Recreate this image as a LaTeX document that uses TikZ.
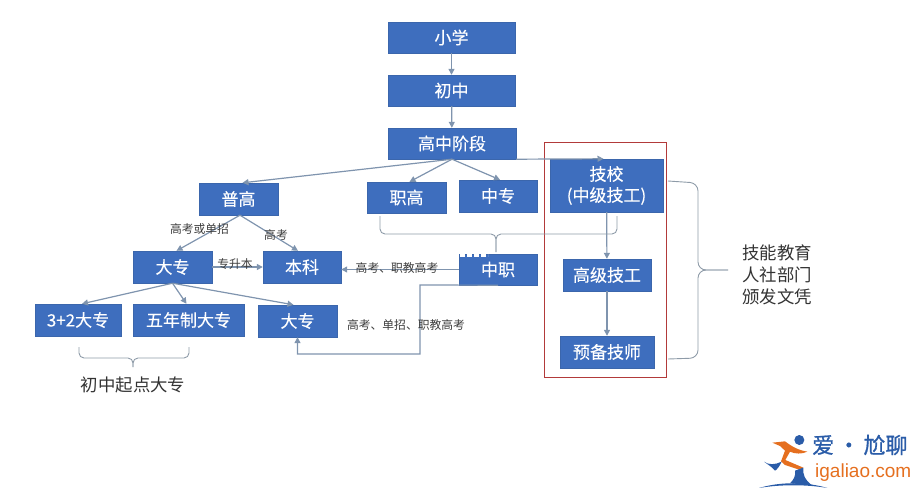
\documentclass[tikz,border=0pt]{standalone}
\usepackage{fontspec}
\setmainfont{Noto Sans CJK SC}
\newfontfamily\heavycjk[FakeBold=0.25]{Noto Sans CJK SC}
\newfontfamily\logocjk[FakeBold=0.9]{Noto Sans CJK SC}
\newfontfamily\logolatin{Liberation Sans}
\usetikzlibrary{arrows.meta}
\definecolor{boxblue}{HTML}{3E6EBE}
\definecolor{boxedge}{HTML}{3B66AC}
\definecolor{linkgray}{HTML}{7F94AE}
\definecolor{bracegray}{HTML}{8E9BA8}
\definecolor{framered}{HTML}{B23A3A}
\definecolor{labelgray}{HTML}{3C3C3C}
\definecolor{logoblue}{HTML}{2A5CA8}
\definecolor{logoorange}{HTML}{E56F1F}
\tikzset{
  box/.style={draw=boxedge,line width=0.4pt,fill=boxblue,text=white,inner sep=0pt,align=center,font=\heavycjk\fontsize{17}{21}\selectfont},
  link/.style={draw=linkgray,line width=1.2pt,-{Triangle[length=6pt,width=6pt]}},
  bracket/.style={draw=bracegray,line width=0.9pt,rounded corners=5pt},
  edgelabel/.style={text=labelgray,inner sep=0pt,font=\fontsize{11.8}{13}\selectfont},
  caption/.style={text=black!80,inner sep=0pt,align=center,font=\fontsize{17.4}{22}\selectfont},
}
\begin{document}
\begin{tikzpicture}[x=1pt,y=-1pt]
\useasboundingbox (0,0) rectangle (923,500);
% frame
\node[draw=framered,line width=1pt,minimum width=122pt,minimum height=235pt,inner sep=0pt] (frame) at (605,259.5) {};
% boxes
\node[box,minimum width=127pt,minimum height=31pt] (xx) at (451.5,37.5) {小学};
\node[box,minimum width=127pt,minimum height=31pt] (cz) at (451.5,90.5) {初中};
\node[box,minimum width=128pt,minimum height=31pt] (gz) at (452,143.5) {高中阶段};
\node[box,minimum width=79pt,minimum height=32pt] (pg) at (238.5,199) {普高};
\node[box,minimum width=79pt,minimum height=31pt] (zg) at (406.5,197.5) {职高};
\node[box,minimum width=78pt,minimum height=32pt] (zhuan) at (498,196) {中专};
\node[box,minimum width=113pt,minimum height=53pt] (jx) at (606.5,185.5) {技校\\(中级技工)};
\node[box,minimum width=79pt,minimum height=32pt] (dz) at (172.5,267) {大专};
\node[box,minimum width=78pt,minimum height=32pt] (bk) at (302,267) {本科};
\node[box,minimum width=78pt,minimum height=31pt] (zz) at (498,269.5) {中职};
\node[box,minimum width=88pt,minimum height=32pt] (gj) at (607,275) {高级技工};
\node[box,minimum width=94pt,minimum height=32pt] (yb) at (607,352) {预备技师};
\node[box,minimum width=86pt,minimum height=32pt] (sj) at (78,320) {3+2大专};
\node[box,minimum width=111pt,minimum height=32pt] (wn) at (188.5,320) {五年制大专};
\node[box,minimum width=79pt,minimum height=32pt] (dz2) at (297.5,321) {大专};
% scan artefact at the top of the box
\draw[white,line width=3pt,dash pattern=on 5pt off 2pt] ([xshift=1pt,yshift=-2pt]zz.north west) -- ++(28,0);
% connectors
\coordinate (turnA) at (420,285);
\coordinate (turnB) at (420,354);
\coordinate (turnC) at (297.5,354);
\draw[link] (xx) -- (cz);
\draw[link] (cz) -- (gz);
\draw[link] (gz.south) -- ([xshift=4pt]pg.north);
\draw[link] (gz.south) -- ([xshift=3pt]zg.north);
\draw[link] (gz.south) -- ([xshift=2pt]zhuan.north);
\draw[link] (gz.south east) -- ([xshift=-3pt]jx.north);
\draw[link] (jx) -- (gj);
\draw[link] (gj) -- (yb);
\draw[link] ([xshift=1.5pt]pg.south) -- ([xshift=4pt]dz.north);
\draw[link] ([xshift=1.5pt]pg.south) -- ([xshift=-4pt]bk.north);
\draw[link] (dz.east) -- (bk.west);
\draw[link] (dz.south) -- ([xshift=4pt]sj.north);
\draw[link] (dz.south) -- ([xshift=-2pt]wn.north);
\draw[link] (dz.south) -- ([xshift=-4pt]dz2.north);
\draw[link] (zz.west) -- (zz.west -| bk.east);
\draw[link] (zz.south) -- (turnA) -- (turnB) -- (turnC) -- (dz2.south);
% brackets
\draw[bracket] (380,216) -- (380,234) -- (496,234) -- (496,252);
\draw[bracket] (496,252) -- (496,234) -- (617,234) -- (617,216);
\draw[bracket] (79,347) -- (79,358) -- (133,358) -- (133,367);
\draw[bracket] (133,367) -- (133,358) -- (189,358) -- (189,347);
\draw[bracket,rounded corners=8pt] (668,181) -- (698,183) -- (698,270) -- (728,270);
\draw[bracket,rounded corners=8pt] (728,270) -- (698,270) -- (698,358) -- (668,359);
% labels
\node[edgelabel] (l1) at (199.5,229.5) {高考或单招};
\node[edgelabel] (l2) at (276,235) {高考};
\node[edgelabel] (l3) at (235,264) {专升本};
\node[edgelabel] (l4) at (397,268) {高考、职教高考};
\node[edgelabel] (l5) at (406,325) {高考、单招、职教高考};
\node[caption] (c1) at (133,385) {初中起点大专};
\node[caption] (c2) at (777,274.5) {技能教育\\人社部门\\颁发文凭};
% logo
\begin{scope}[shift={(740,420)},x=0.3333pt,y=-0.3333pt]
\fill[logoblue] (178,60) ellipse (15 and 15);
\fill[logoorange] (97,68) -- (135,64) .. controls (150,75) and (170,90) .. (202,95) .. controls (185,103) and (165,102) .. (150,95) -- (136,120) -- (190,143) -- (180,150) -- (135,135) -- (123,124) -- (135,92) -- (120,78) -- cycle;
\fill[logoblue] (165,152) -- (190,143) .. controls (188,165) and (195,180) .. (215,195) -- (150,190) .. controls (160,180) and (168,168) .. (165,152) -- cycle;
\fill[logoblue] (72,125) .. controls (85,135) and (105,135) .. (125,125) .. controls (118,140) and (110,150) .. (105,152) .. controls (95,140) and (85,135) .. (72,125) -- cycle;
\fill[logoblue] (57,204) .. controls (120,185) and (200,185) .. (262,204) .. controls (200,193) and (120,193) .. (57,204) -- cycle;
\end{scope}
\node[inner sep=0pt,anchor=west,text=logoblue,font=\logocjk\fontsize{22}{24}\selectfont] (logoa) at (812,445) {爱\,·\,尬聊};
\node[inner sep=0pt,anchor=west,text=logoorange,font=\logolatin\fontsize{19}{22}\selectfont] (logob) at (815,473) {igaliao.com};
\end{tikzpicture}
\end{document}
